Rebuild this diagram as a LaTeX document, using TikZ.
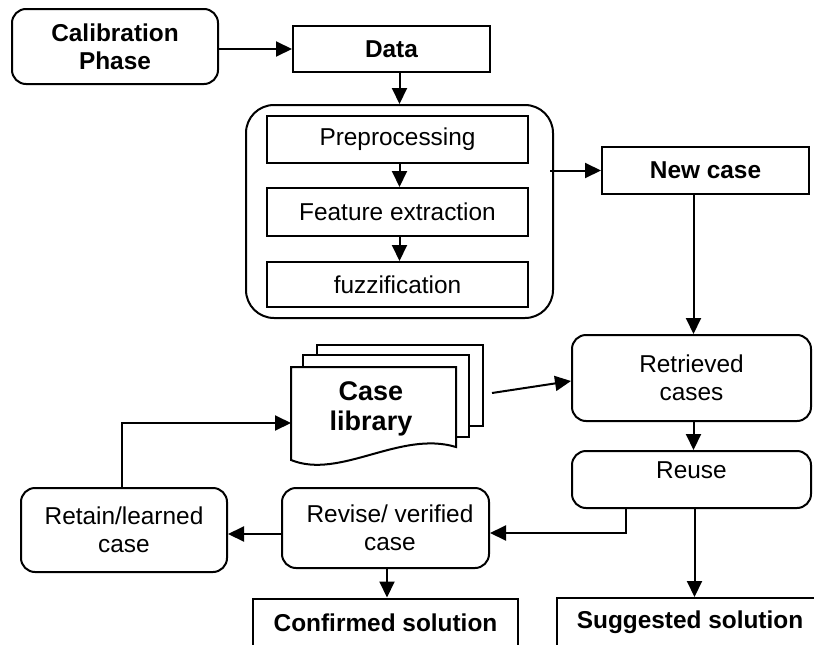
\documentclass[tikz,border=0pt]{standalone}
\usepackage{fontspec}
\setmainfont{Liberation Sans}
\usetikzlibrary{arrows.meta,calc}
\begin{document}
\begin{tikzpicture}[x=1pt,y=-1pt, line width=2pt,
  txt/.style={font=\fontsize{24.4}{28}\selectfont, align=center, inner sep=0pt},
  btxt/.style={font=\fontsize{24.4}{28}\selectfont\bfseries, align=center, inner sep=0pt},
  sq/.style={draw, fill=white},
  rnd/.style={draw, fill=white, rounded corners=14pt},
  arr/.style={line width=2pt, -{Triangle[length=16pt,width=15pt]}},
  doc/.style={draw, fill=white},
]
\useasboundingbox (0,0) rectangle (814,645);
\clip (0,0) rectangle (814,645);

% top
\node[rnd, btxt, minimum width=206pt, minimum height=75pt] (cal) at (115,46.5) {Calibration\\Phase};
\node[sq, btxt, minimum width=197pt, minimum height=46pt] (data) at (391.5,49) {Data};

% group
\node[draw, rounded corners=28pt, minimum width=307pt, minimum height=213pt] (group) at (399.5,211.5) {};
\node[sq, txt, minimum width=261pt, minimum height=47pt] (pre) at (397.5,139.5) {Preprocessing};
\node[sq, txt, minimum width=261pt, minimum height=48pt] (feat) at (397.5,212) {Feature extraction};
\node[sq, txt, minimum width=261pt, minimum height=45pt] (fuzz) at (397.5,284.5) {fuzzification};

\node[sq, btxt, minimum width=207pt, minimum height=47pt] (newc) at (705.5,170.5) {New case};

% case library (multi-document)
\draw[doc] (317,345) rectangle (483,426);
\draw[doc] (303,355) rectangle (469,437);
\draw[doc] (291,367) -- (456,367) -- (456,447) .. controls (400,430) and (340,480) .. (291,460) -- cycle;
\node[font=\fontsize{27}{30}\selectfont\bfseries, align=center, inner sep=0pt] (lib) at (371,409) {Case\\library};
\coordinate (libin) at (291,423);
\coordinate (libout) at (492,393);

% right column
\node[rnd, txt, minimum width=239pt, minimum height=86pt] (retr) at (691.5,378) {Retrieved\\cases};
\node[rnd, minimum width=239pt, minimum height=57pt] (reuse) at (691.5,479.5) {};
\node[txt] (reuselbl) at ($(reuse.center)+(0,-9)$) {Reuse};

% bottom row
\node[rnd, txt, minimum width=206pt, minimum height=84pt] (retain) at (124,530) {Retain/learned\\case};
\node[rnd, txt, minimum width=207pt, minimum height=80pt] (revise) at (385.5,528) {\hspace*{9pt}Revise/ verified\\\hspace*{9pt}case};
\node[sq, btxt, minimum width=265pt, minimum height=49pt] (conf) at (385.5,623) {Confirmed solution};
\node[sq, btxt, minimum width=266pt, minimum height=49pt] (sugg) at (690,622.5) {Suggested solution};

% connectors
\draw[arr] (data.west -| cal.east) -- (data.west);
\draw[arr] ([xshift=8pt]data.south) -- ([xshift=8pt]data.south |- group.north);
\draw[arr] ([xshift=2pt]pre.south) -- ([xshift=2pt]feat.north);
\draw[arr] ([xshift=2pt]feat.south) -- ([xshift=2pt]fuzz.north);
\draw[arr] ([xshift=-4pt]group.east |- newc.west) -- (newc.west);
\draw[arr] ([xshift=2pt]retr.north |- newc.south) -- ([xshift=2pt]retr.north);
\draw[arr] (libout) -- ([yshift=-3pt]retr.west);
\draw[arr] ([xshift=2pt]retr.south) -- ([xshift=2pt]reuse.north);
\draw[arr] ([xshift=3pt]reuse.south) -- ([xshift=3pt]reuse.south |- sugg.north);
\draw[arr] ([xshift=55pt]reuse.south west) |- ([yshift=-5pt]revise.east);
\draw[arr] ([yshift=-6pt]revise.west) -- ([yshift=-6pt]revise.west -| retain.east);
\draw[arr] ([xshift=1.5pt]revise.south) -- ([xshift=1.5pt]conf.north);
\draw[arr] (retain.north -| 122,0) |- (libin);
\end{tikzpicture}
\end{document}
